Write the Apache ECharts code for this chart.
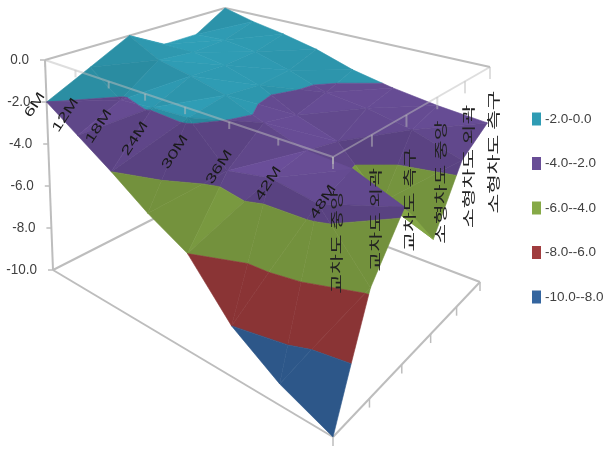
<!DOCTYPE html>
<html>
<head>
<meta charset="utf-8">
<style>html,body{margin:0;padding:0;background:#fff}#chart{width:605px;height:449px}</style>
<script src="https://cdn.jsdelivr.net/npm/echarts@6/dist/echarts.min.js"></script>
</head>
<body>
<div id="chart"></div>
<script>
// Axis categories and tick labels
const months = ['6M', '12M', '18M', '24M', '30M', '36M', '42M', '48M'];
const roads = ['교차도 중앙', '교차도 외곽', '교차도 측구', '소형차도 중앙', '소형차도 외곽', '소형차도 측구'];
const zTicks = [0, -2, -4, -6, -8, -10];

// Surface values per month, one value per road position
const at6M  = [-2.0, -1.0,  0.0, -1.0, -1.0,  0.0];
const at12M = [-3.0, -2.1, -0.8, -1.0, -0.9, -0.4];
const at18M = [-4.0, -1.9, -1.1, -1.2, -1.1, -0.7];
const at24M = [-5.1, -1.8, -1.5, -1.7, -1.6, -1.1];
const at30M = [-6.0, -3.5, -2.2, -2.6, -2.2, -1.7];
const at36M = [-8.0, -3.1, -2.8, -3.2, -2.4, -2.1];
const at42M = [-9.2, -3.4, -2.9, -5.2, -2.8, -2.4];
const at48M = [-10.0, -5.8, -3.7, -6.0, -3.5, -2.6];
const surface = [at6M, at12M, at18M, at24M, at30M, at36M, at42M, at48M];

// Colour bands of the surface
const bandNames = ['-2.0-0.0', '-4.0--2.0', '-6.0--4.0', '-8.0--6.0', '-10.0--8.0'];
const bandTops = [0, -2, -4, -6, -8];
const bandColors = ['#2f9cb4', '#684d96', '#86a947', '#a03c3e', '#34659f'];

// Camera: where the corners of the plot box land on the scene, and axis foreshortening
const box = {
  top: { l: [45, 60], b: [225, 8], r: [490, 67], f: [333, 157] },
  floor: { l: [53, 270], b: [222, 184], r: [480, 282], f: [333, 437] }
};
const monthDepth = 1.408, roadDepth = 0.758;
const foreshorten = (t, k) => t / (t + k * (1 - t));

function onPlane(p, u, v) {
  const mix = n => (1 - u) * (1 - v) * p.l[n] + (1 - u) * v * p.b[n] + u * (1 - v) * p.f[n] + u * v * p.r[n];
  return [mix(0), mix(1)];
}
function project(i, j, z) {
  const u = foreshorten(i / (months.length - 1), monthDepth);
  const v = foreshorten(j / (roads.length - 1), roadDepth);
  const w = -z / 10;
  const a = onPlane(box.top, u, v), b = onPlane(box.floor, u, v);
  return [a[0] + (b[0] - a[0]) * w, a[1] + (b[1] - a[1]) * w];
}

// Keep the part of a triangle on one side of a height level
function clipLevel(poly, level, keepAbove) {
  const out = [];
  const inside = p => keepAbove ? p[2] >= level : p[2] <= level;
  poly.forEach((p, n) => {
    const q = poly[(n + 1) % poly.length];
    if (inside(p)) out.push(p);
    if (inside(p) !== inside(q)) {
      const t = (level - p[2]) / (q[2] - p[2]);
      out.push([p[0] + (q[0] - p[0]) * t, p[1] + (q[1] - p[1]) * t, level]);
    }
  });
  return out;
}

// Facet brightness from its normal, as a flat-shaded surface would look
function facetLight(tri) {
  const ax = tri[1][0] - tri[0][0], ay = tri[1][1] - tri[0][1], az = (tri[1][2] - tri[0][2]) * 0.5;
  const bx = tri[2][0] - tri[0][0], by = tri[2][1] - tri[0][1], bz = (tri[2][2] - tri[0][2]) * 0.5;
  let nx = ay * bz - az * by, ny = az * bx - ax * bz, nz = ax * by - ay * bx;
  if (nz < 0) { nx = -nx; ny = -ny; nz = -nz; }
  const len = Math.hypot(nx, ny, nz);
  const dot = (nx * -0.5 + ny * 0.4 + nz * 0.77) / len;
  return 0.86 + 0.2 * Math.max(0, dot);
}
function shade(hex, f) {
  const c = [1, 3, 5].map(n => Math.min(255, Math.round(parseInt(hex.substr(n, 2), 16) * f)));
  return 'rgb(' + c.join(',') + ')';
}

// Cut every facet into the colour bands, keeping the far-to-near order
const bandPolys = bandNames.map(() => []);
let paintOrder = 0;
const cellOrder = [];
for (let i = 0; i < months.length - 1; i++)
  for (let j = 0; j < roads.length - 1; j++) cellOrder.push([i, j]);
cellOrder.sort((a, b) => (a[0] - a[1]) - (b[0] - b[1]));
cellOrder.forEach(([i, j]) => {
  const v = (a, b) => [a, b, surface[a][b]];
  const tris = [
    [v(i, j + 1), v(i + 1, j + 1), v(i, j)],
    [v(i + 1, j + 1), v(i + 1, j), v(i, j)]
  ];
  tris.forEach(tri => {
    const light = facetLight(tri);
    bandNames.forEach((name, n) => {
      let poly = clipLevel(tri, bandTops[n], false);
      if (poly.length) poly = clipLevel(poly, bandTops[n] - 2, true);
      if (poly.length > 2) bandPolys[n].push({ poly, light, order: ++paintOrder });
    });
  });
});

const bandSeries = bandNames.map((name, n) => ({
  type: 'custom',
  name,
  coordinateSystem: 'cartesian2d',
  itemStyle: { color: bandColors[n] },
  z: 3,
  clip: false,
  silent: true,
  animation: false,
  data: bandPolys[n].map((p, k) => [k, 0]),
  renderItem(params, api) {
    const item = bandPolys[n][params.dataIndex];
    const points = item.poly.map(p => api.coord(project(p[0], p[1], p[2])));
    const fill = shade(bandColors[n], item.light);
    return { type: 'polygon', z2: item.order, shape: { points }, style: { fill, stroke: fill, lineWidth: 0.6 } };
  }
}));

const frameColor = '#bdbdbd';
const seg = (api, from, to, extra) => ({
  type: 'line',
  shape: { x1: api.coord(from)[0], y1: api.coord(from)[1], x2: api.coord(to)[0], y2: api.coord(to)[1] },
  style: Object.assign({ stroke: frameColor, lineWidth: 2 }, extra)
});
const lastI = months.length - 1, lastJ = roads.length - 1;

// Box edges that sit behind the surface
const backFrame = {
  type: 'custom', z: 1, clip: false, silent: true, animation: false, data: [[0, 0]],
  renderItem(params, api) {
    const children = [
      seg(api, project(0, 0, 0), project(0, 0, -10)),
      seg(api, project(0, 0, 0), project(0, lastJ, 0)),
      seg(api, project(0, lastJ, 0), project(lastI, lastJ, 0)),
      seg(api, project(0, 0, -10), project(lastI, 0, -10)),
      seg(api, project(lastI, 0, -10), project(lastI, lastJ, -10)),
      seg(api, project(0, 0, -10), project(0, lastJ, -10)),
      seg(api, project(lastI, lastJ, -10), project(0, lastJ, -10))
    ];
    zTicks.forEach(t => {
      const p = project(0, 0, t);
      children.push(seg(api, p, [p[0] - 5, p[1]], { lineWidth: 1.5 }));
    });
    roads.forEach((r, j) => {
      const p = project(lastI, j, -10);
      children.push(seg(api, p, [p[0], p[1] + 9], { lineWidth: 1.5 }));
    });
    return { type: 'group', children };
  }
};

// Box edges drawn over the surface, with all tick labels
const frontFrame = {
  type: 'custom', z: 5, clip: false, silent: true, animation: false, data: [[0, 0]],
  renderItem(params, api) {
    const soft = { opacity: 0.5 };
    const children = [
      seg(api, project(0, 0, 0), project(lastI, 0, 0), soft),
      seg(api, project(lastI, 0, 0), project(lastI, lastJ, 0), soft)
    ];
    months.forEach((m, i) => {
      const p = project(i, 0, 0);
      children.push(seg(api, p, [p[0], p[1] + 7], soft));
      const c = api.coord([p[0] - 10, p[1] + 45]);
      children.push({
        type: 'text', x: c[0], y: c[1], rotation: 57 * Math.PI / 180, scaleX: 1.5,
        style: { text: m, font: '13px "Liberation Sans"', fill: '#1a1a1a', align: 'center', verticalAlign: 'middle' }
      });
    });
    roads.forEach((r, j) => {
      const p = project(lastI, j, 0);
      children.push(seg(api, p, [p[0], p[1] + 12], soft));
      const c = api.coord([p[0] + 3, p[1] + 85]);
      children.push({
        type: 'text', x: c[0], y: c[1], rotation: Math.PI / 2, scaleX: 1.65,
        style: { text: r, font: '13px "Noto Sans CJK KR"', fill: '#222', align: 'center', verticalAlign: 'middle' }
      });
    });
    zTicks.forEach(t => {
      const p = project(0, 0, t);
      const c = api.coord([p[0] - 16, p[1]]);
      children.push({
        type: 'text', x: c[0], y: c[1], scaleX: 0.9,
        style: { text: t.toFixed(1), font: '15px "Liberation Sans"', fill: '#404040', align: 'right', verticalAlign: 'middle' }
      });
    });
    return { type: 'group', children };
  }
};

const chart = echarts.init(document.getElementById('chart'));
chart.setOption({
  animation: false,
  backgroundColor: '#fff',
  grid: { left: 0, right: 0, top: 0, bottom: 0 },
  xAxis: { type: 'value', min: 0, max: 605, show: false },
  yAxis: { type: 'value', min: 0, max: 449, inverse: true, show: false },
  legend: {
    orient: 'vertical', left: 527, top: 107,
    icon: 'rect', itemWidth: 9, itemHeight: 13, itemGap: 30.5, itemStyle: { borderWidth: 0 },
    selectedMode: false,
    data: bandNames,
    textStyle: { fontFamily: 'Liberation Sans', fontSize: 13.5, color: '#404040', padding: [0, 0, 0, -1] }
  },
  series: [backFrame].concat(bandSeries, [frontFrame])
});
</script>
</body>
</html>
